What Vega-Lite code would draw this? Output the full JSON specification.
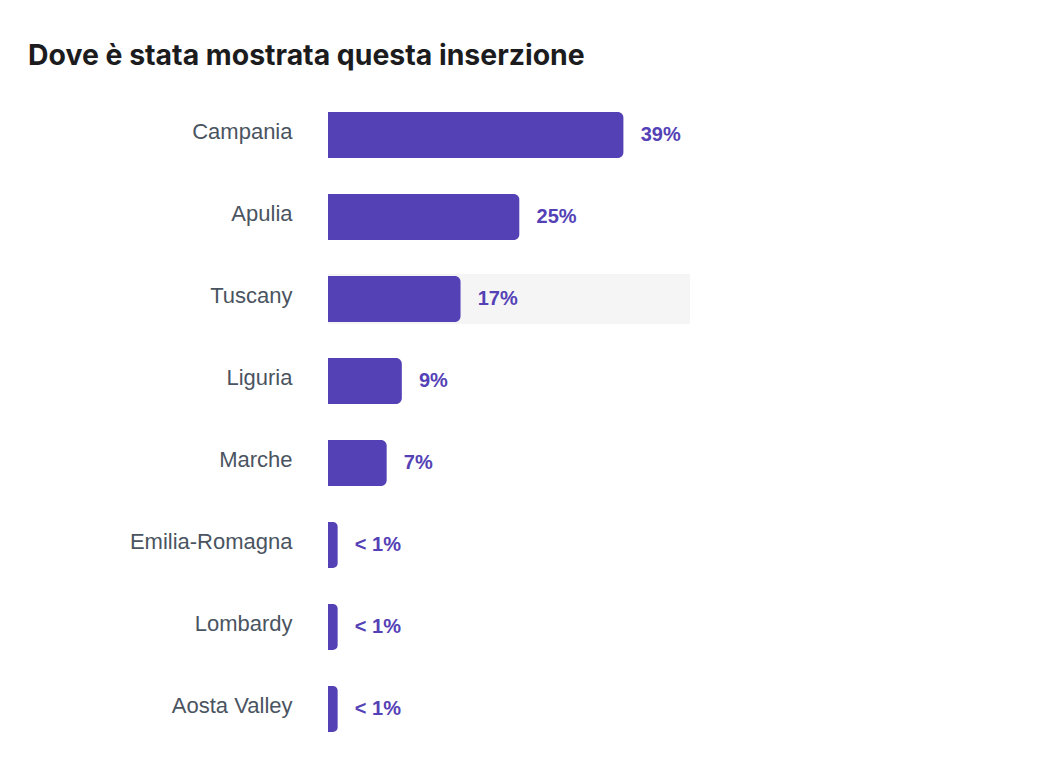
{
  "$schema": "https://vega.github.io/schema/vega-lite/v6.json",
  "autosize": "none",
  "width": 362,
  "height": 656,
  "padding": {"left": 328, "top": 94, "right": 362, "bottom": 16},
  "background": "white",
  "config": {"view": {"stroke": null}},
  "title": {
    "text": "Dove è stata mostrata questa inserzione",
    "anchor": "start",
    "frame": "group",
    "dx": -300,
    "offset": 23,
    "font": "Inter",
    "fontSize": 28.4,
    "fontWeight": "bold",
    "color": "#1c1c1e"
  },
  "data": {
    "values": [
      {"region": "Campania", "pct": 39.2, "label": "39%", "highlight": false},
      {"region": "Apulia", "pct": 25.4, "label": "25%", "highlight": false},
      {"region": "Tuscany", "pct": 17.6, "label": "17%", "highlight": true},
      {"region": "Liguria", "pct": 9.8, "label": "9%", "highlight": false},
      {"region": "Marche", "pct": 7.8, "label": "7%", "highlight": false},
      {"region": "Emilia-Romagna", "pct": 1.3, "label": "< 1%", "highlight": false},
      {"region": "Lombardy", "pct": 1.3, "label": "< 1%", "highlight": false},
      {"region": "Aosta Valley", "pct": 1.3, "label": "< 1%", "highlight": false}
    ]
  },
  "encoding": {
    "y": {
      "field": "region",
      "type": "nominal",
      "sort": null,
      "scale": {"paddingInner": 0.44, "paddingOuter": 0.22},
      "axis": {
        "title": null,
        "domain": false,
        "ticks": false,
        "grid": false,
        "labelPadding": 36,
        "labelOffset": -3,
        "labelFont": "Liberation Sans",
        "labelFontSize": 22,
        "labelColor": "#4a5461"
      }
    }
  },
  "layer": [
    {
      "mark": {"type": "bar", "height": 50},
      "encoding": {
        "x": {"datum": 0, "type": "quantitative", "scale": {"domain": [0, 48]}, "axis": null},
        "x2": {"datum": 48},
        "color": {"condition": {"test": "datum.highlight", "value": "#f5f5f5"}, "value": "transparent"}
      }
    },
    {
      "mark": {"type": "bar", "color": "#5441b6", "cornerRadiusEnd": 6},
      "encoding": {
        "x": {"field": "pct", "type": "quantitative", "scale": {"domain": [0, 48]}, "axis": null}
      }
    },
    {
      "mark": {"type": "text", "align": "left", "baseline": "middle", "dx": 17, "font": "Liberation Sans", "fontSize": 20, "fontWeight": "bold", "color": "#5441b6"},
      "encoding": {
        "x": {"field": "pct", "type": "quantitative", "scale": {"domain": [0, 48]}, "axis": null},
        "text": {"field": "label"}
      }
    }
  ]
}
